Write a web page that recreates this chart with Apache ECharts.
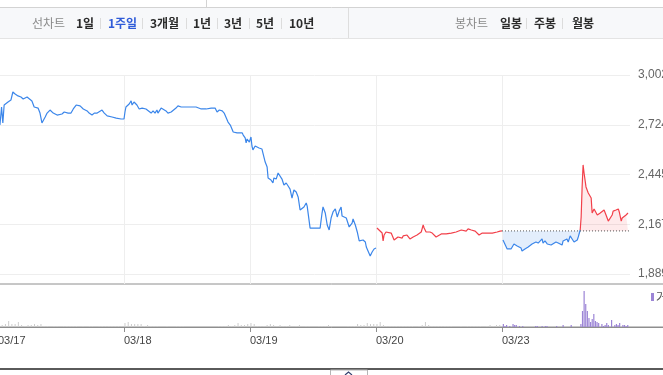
<!DOCTYPE html>
<html><head><meta charset="utf-8">
<script src="https://cdn.jsdelivr.net/npm/echarts@6/dist/echarts.min.js"></script>
<style>html,body{margin:0;padding:0;background:#fff;overflow:hidden}#c{width:663px;height:375px;}</style>
</head><body><div id="c"></div>
<script>
// ---- data ----
const dayLabels = ['03/17','03/18','03/19','03/20','03/23'];
const yTickLabels = ['1,889','2,167','2,445','2,724','3,002'];
const priceMin = 1889, priceMax = 3002;
const prevClose = 2130;
const lineMenu = ['1일','1주일','3개월','1년','3년','5년','10년'];
const candleMenu = ['일봉','주봉','월봉'];
const volumeName = '거래량';
// [minute from 09:00, price]
const day0 = [[6,2722],[11,2823],[15,2734],[19,2834],[25,2845],[31,2851],[40,2862],[46,2907],[53,2896],[59,2890],[62,2885],[71,2879],[78,2868],[84,2873],[90,2879],[96,2890],[105,2857],[112,2823],[118,2812],[124,2817],[130,2789],[136,2734],[140,2734],[146,2767],[152,2789],[161,2806],[171,2789],[177,2789],[183,2778],[189,2789],[198,2784],[205,2795],[211,2801],[217,2789],[226,2789],[233,2812],[236,2801],[242,2834],[248,2823],[254,2829],[264,2812],[270,2801],[276,2801],[282,2789],[291,2778],[298,2789],[307,2789],[313,2789],[322,2806],[329,2789],[338,2773],[344,2773],[353,2767],[357,2773],[366,2761],[372,2756],[381,2756],[390,2756]];
const day1 = [[3,2795],[6,2823],[9,2834],[16,2840],[22,2857],[25,2834],[31,2851],[37,2851],[40,2834],[47,2812],[56,2817],[59,2823],[68,2812],[74,2817],[84,2789],[90,2801],[96,2789],[102,2806],[105,2789],[115,2817],[121,2812],[130,2801],[136,2789],[146,2795],[152,2801],[161,2817],[167,2829],[177,2823],[183,2817],[192,2823],[198,2817],[208,2823],[214,2817],[223,2823],[229,2817],[239,2812],[245,2806],[254,2812],[260,2812],[270,2817],[276,2812],[282,2817],[288,2795],[295,2806],[304,2801],[310,2789],[316,2778],[322,2739],[329,2722],[332,2711],[338,2683],[344,2678],[350,2678],[356,2672],[366,2678],[369,2666],[375,2650],[378,2622],[381,2644],[388,2627]];
const day2 = [[3,2655],[6,2605],[9,2583],[16,2605],[22,2599],[28,2594],[37,2588],[40,2577],[47,2515],[53,2487],[56,2426],[59,2437],[65,2415],[71,2398],[74,2426],[81,2420],[87,2454],[93,2454],[99,2420],[105,2387],[112,2398],[118,2381],[124,2364],[130,2314],[136,2359],[143,2348],[149,2320],[155,2247],[161,2253],[167,2264],[174,2286],[177,2269],[186,2146],[217,2146],[223,2230],[226,2264],[233,2230],[239,2163],[245,2135],[251,2202],[257,2236],[264,2253],[270,2208],[276,2241],[282,2264],[285,2213],[291,2219],[298,2202],[301,2208],[307,2152],[316,2174],[319,2197],[326,2163],[332,2124],[338,2074],[344,2068],[350,2079],[357,2068],[360,2040],[366,2040],[372,1990],[378,2012],[384,2029],[390,2034]];
const day3 = [[3,2146],[9,2135],[19,2118],[22,2074],[25,2107],[31,2124],[37,2113],[47,2118],[53,2113],[56,2079],[62,2090],[68,2096],[74,2102],[81,2090],[84,2102],[90,2096],[96,2107],[99,2096],[105,2085],[115,2096],[121,2096],[127,2107],[133,2113],[140,2124],[146,2163],[149,2146],[155,2124],[161,2118],[167,2124],[174,2118],[180,2113],[186,2096],[192,2107],[202,2113],[208,2118],[217,2113],[223,2118],[233,2118],[239,2118],[248,2124],[254,2118],[264,2135],[270,2141],[279,2129],[285,2141],[295,2135],[301,2124],[307,2129],[313,2118],[319,2107],[329,2118],[335,2113],[344,2118],[350,2118],[360,2118],[366,2124],[375,2124],[384,2129],[390,2130]];
const day4 = [[3,2079],[6,2068],[16,2029],[22,2023],[28,2029],[31,2023],[37,2057],[47,2046],[53,2040],[59,2034],[62,2018],[71,2029],[81,2040],[87,2040],[93,2057],[99,2051],[105,2068],[112,2062],[118,2062],[124,2085],[127,2062],[133,2074],[140,2057],[146,2062],[152,2051],[158,2062],[167,2068],[174,2062],[180,2062],[186,2051],[189,2074],[195,2068],[201,2085],[205,2068],[211,2102],[217,2085],[223,2068],[233,2079],[236,2096],[242,2135],[245,2208],[248,2376],[251,2499],[254,2454],[260,2376],[267,2342],[270,2331],[276,2314],[279,2230],[285,2253],[288,2247],[295,2219],[298,2225],[304,2230],[310,2236],[316,2247],[322,2219],[329,2185],[335,2185],[341,2219],[344,2241],[353,2247],[360,2253],[363,2236],[369,2185],[372,2202],[378,2213],[384,2219],[390,2230]];
// volume (10-minute bins for past days, 5-minute bins for last day)
const vol0 = [3,2,3,6,3,3,5,2,1,2,2,3,2,3,1,1,0,1,1,0,1,1,1,1,1,0,1,0,1,1,0,1,1,1,1,1,1,1,1];
const vol1 = [4,5,3,3,3,3,1,2,1,1,1,0,0,1,0,0,1,1,1,0,0,0,0,0,0,0,0,0,0,1,1,1,2,1,2,4,2,2,3];
const vol2 = [4,3,1,1,1,2,3,2,1,2,1,1,2,0,1,2,0,1,1,0,0,1,1,1,2,1,0,0,0,0,1,1,1,3,2,2,4,3,3];
const vol3 = [3,5,2,1,1,1,1,1,1,1,1,1,0,1,2,5,2,1,1,1,1,1,1,1,0,0,1,0,1,1,1,1,1,0,1,2,1,2,2];
const vol4 = [3,1,2,0,1,0,3,2,2,0,1,0,1,0,0,0,0,0,0,0,1,1,0,0,1,0,1,1,0,0,0,0,0,1,0,0,0,2,0,0,0,0,2,0,0,0,0,0,3,16,36,23,16,9,5,8,13,6,5,4,0,3,1,2,4,2,0,7,0,2,3,2,4,0,2,2,1,2];

// ---- build ----
const D = 390;
const pxPerMin = 630 / (5 * D);
const X0max = 632 / pxPerMin;
const X2max = 667 / pxPerMin;
const step = (priceMax - priceMin) / 4;
const toXY = (arr, d) => arr.map(p => [d * D + p[0], p[1]]);
const blueHist = [].concat(toXY(day0, 0), toXY(day1, 1), toXY(day2, 2));
const red3 = toXY(day3, 3);
const d4 = toXY(day4, 4);
const k = d4.findIndex(p => p[1] >= prevClose);
const blue4 = d4.slice(0, k + 1), red4 = d4.slice(k);
const greyVol = [];
[vol0, vol1, vol2, vol3].forEach((arr, d) => arr.forEach((v, i) => { if (v > 0) greyVol.push([d * D + 5 + 10 * i, v]); }));
const purpleVol = vol4.map((v, i) => [4 * D + 2.5 + 5 * i, v]).filter(p => p[1] > 0);
const dayTicks = dayLabels.map((_, i) => i * D);

const BLUE = '#3b86ea', RED = '#f2404a', PURPLE = '#9c85d6';
const FONT = '"Noto Sans CJK KR", "Noto Sans", sans-serif';

const graphic = [
  { type: 'rect', shape: { x: 0, y: 8, width: 663, height: 31 }, style: { fill: '#f7f8fa' }, silent: true },
  { type: 'line', shape: { x1: 0, y1: 7.5, x2: 663, y2: 7.5 }, style: { stroke: '#d3d3d3', lineWidth: 1 } },
  { type: 'line', shape: { x1: 206.5, y1: 0, x2: 206.5, y2: 7.5 }, style: { stroke: '#d3d3d3', lineWidth: 1 } },
  { type: 'line', shape: { x1: 0, y1: 38.5, x2: 663, y2: 38.5 }, style: { stroke: '#e4e4e4', lineWidth: 1 } },
  { type: 'line', shape: { x1: 348.5, y1: 8, x2: 348.5, y2: 38 }, style: { stroke: '#dedede', lineWidth: 1 } },
  { type: 'text', style: { text: '선차트', x: 32, y: 23, fill: '#8a8a8a', font: '12px ' + FONT, verticalAlign: 'middle' } },
  { type: 'text', style: { text: '봉차트', x: 455, y: 23, fill: '#8a8a8a', font: '12px ' + FONT, verticalAlign: 'middle' } },
  { type: 'rect', shape: { x: 651, y: 293, width: 3, height: 8 }, style: { fill: PURPLE } },
  { type: 'text', style: { text: volumeName, x: 656, y: 297, fill: '#555', font: '12px ' + FONT, verticalAlign: 'middle' } }
];
const lineX = [76, 108, 150, 193, 224, 256, 289];
const lineSep = [100.5, 142.5, 186.5, 217.5, 249.5, 281.5];
lineMenu.forEach((t, i) => graphic.push({ type: 'text', style: { text: t, x: lineX[i], y: 23, fill: i === 1 ? '#2f5bd8' : '#2a2a2a', font: 'bold 12px ' + FONT, verticalAlign: 'middle' } }));
lineSep.forEach(x => graphic.push({ type: 'line', shape: { x1: x, y1: 18, x2: x, y2: 29 }, style: { stroke: '#dcdcdc', lineWidth: 1 } }));
const candleX = [500, 534, 572];
candleMenu.forEach((t, i) => graphic.push({ type: 'text', style: { text: t, x: candleX[i], y: 23, fill: '#2a2a2a', font: 'bold 12px ' + FONT, verticalAlign: 'middle' } }));
[526.5, 562.5].forEach(x => graphic.push({ type: 'line', shape: { x1: x, y1: 18, x2: x, y2: 29 }, style: { stroke: '#dcdcdc', lineWidth: 1 } }));
graphic.push({ type: 'rect', shape: { x: 0, y: 368, width: 663, height: 2 }, style: { fill: '#5a5a5a' } });
graphic.push({ type: 'rect', shape: { x: 330.5, y: 370, width: 37, height: 10 }, style: { fill: '#fff', stroke: '#b5b5b5', lineWidth: 1 } });
graphic.push({ type: 'polyline', shape: { points: [[345, 375], [348.5, 372], [352, 375]] }, style: { stroke: '#33406e', lineWidth: 1.2, fill: 'none' } });

const chart = echarts.init(document.getElementById('c'));
chart.setOption({
  animation: false,
  textStyle: { fontFamily: '"Liberation Sans", Arial, sans-serif' },
  graphic,
  grid: [
    { left: -2, right: 33, top: 75, height: 199, outerBoundsMode: 'none', containLabel: false },
    { left: -2, right: 33, top: 75, height: 209, outerBoundsMode: 'none', containLabel: false },
    { left: -2, right: -2, top: 284, height: 43, show: true, borderColor: '#8e8e8e', borderWidth: 1, backgroundColor: 'transparent', outerBoundsMode: 'none', containLabel: false }
  ],
  xAxis: [
    { gridIndex: 0, type: 'value', min: 0, max: X0max, show: false },
    { gridIndex: 1, type: 'value', min: 0, max: X0max, interval: D,
      axisLine: { show: false }, axisLabel: { show: false },
      axisTick: { show: false, customValues: dayTicks },
      splitLine: { show: true, lineStyle: { color: '#eeeeee' } } },
    { gridIndex: 2, type: 'value', min: 0, max: X2max, interval: D,
      axisLine: { show: true, lineStyle: { color: '#8e8e8e' } },
      axisTick: { show: true, length: 5, lineStyle: { color: '#8e8e8e' }, customValues: dayTicks },
      axisLabel: { customValues: dayTicks, showMinLabel: true, align: 'left', margin: 8, color: '#444', fontSize: 11,
        formatter: v => dayLabels[Math.round(v / D)] || '' },
      splitLine: { show: false } }
  ],
  yAxis: [
    { gridIndex: 0, type: 'value', position: 'right', min: priceMin, max: priceMax, interval: step,
      axisLine: { show: false }, axisTick: { show: false },
      splitLine: { show: true, lineStyle: { color: '#eeeeee' } },
      axisLabel: { color: '#666', fontSize: 12, margin: 8, formatter: v => yTickLabels[Math.round((v - priceMin) / step)] || '' } },
    { gridIndex: 1, type: 'value', show: false, min: 0, max: 1, splitLine: { show: false } },
    { gridIndex: 2, type: 'value', show: false, min: 0, max: 43, splitLine: { show: false } }
  ],
  series: [
    { type: 'line', xAxisIndex: 0, yAxisIndex: 0, data: blueHist, showSymbol: false, lineStyle: { color: BLUE, width: 1.2 } },
    { type: 'line', xAxisIndex: 0, yAxisIndex: 0, data: red3, showSymbol: false, lineStyle: { color: RED, width: 1.2 } },
    { type: 'line', xAxisIndex: 0, yAxisIndex: 0, data: blue4, showSymbol: false, lineStyle: { color: BLUE, width: 1.2 },
      areaStyle: { origin: prevClose, color: 'rgba(59,134,234,0.14)', opacity: 1 } },
    { type: 'line', xAxisIndex: 0, yAxisIndex: 0, data: red4, showSymbol: false, lineStyle: { color: RED, width: 1.2 },
      areaStyle: { origin: prevClose, color: 'rgba(242,64,74,0.11)', opacity: 1 } },
    { type: 'line', xAxisIndex: 0, yAxisIndex: 0, data: [[4 * D, prevClose], [X0max, prevClose]], showSymbol: false,
      lineStyle: { color: '#555', width: 1, type: [1, 2] }, z: 3 },
    { type: 'bar', name: '거래량(전)', xAxisIndex: 2, yAxisIndex: 2, data: greyVol, barWidth: 1, itemStyle: { color: '#cdcdcd' } },
    { type: 'bar', name: volumeName, xAxisIndex: 2, yAxisIndex: 2, data: purpleVol, barWidth: 1.2, itemStyle: { color: PURPLE } }
  ]
});
</script></body></html>
